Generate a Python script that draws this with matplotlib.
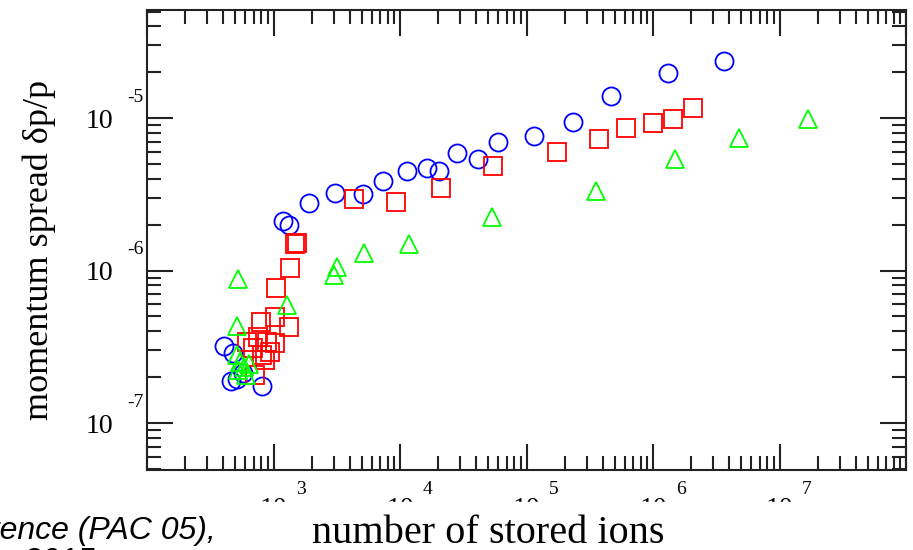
import numpy as np
import matplotlib.pyplot as plt
from matplotlib import ticker
from matplotlib.transforms import blended_transform_factory, offset_copy
from matplotlib.patches import Rectangle

# blue circles
circ_n = [3.66e6, 1.32e6, 4.68e5, 2.34e5, 1.15e5, 5.97e4, 4.15e4, 2.83e4, 2.04e4,
          1.64e4, 1.14e4, 7.35e3, 5.1e3, 3.07e3, 1.91e3, 1.33e3, 1.19e3,
          406, 461, 514, 574, 811, 479]
circ_dp = [2.37e-5, 1.97e-5, 1.39e-5, 9.4e-6, 7.6e-6, 6.96e-6, 5.38e-6, 5.89e-6, 4.49e-6,
           4.7e-6, 4.49e-6, 3.86e-6, 3.18e-6, 3.22e-6, 2.77e-6, 1.99e-6, 2.11e-6,
           3.2e-7, 1.88e-7, 1.94e-7, 2.13e-7, 1.75e-7, 2.88e-7]

# red squares
sq_n = [2.08e6, 1.45e6, 1.0e6, 6.15e5, 3.76e5, 1.75e5, 5.46e4, 2.11e4, 9.3e3, 4.34e3,
        1.53e3, 1.48e3, 1.35e3, 1.05e3, 1.03e3, 1.33e3, 796, 754, 617, 889, 1.03e3,
        689, 938, 857, 714, 811]
sq_dp = [1.16e-5, 9.85e-6, 9.27e-6, 8.6e-6, 7.28e-6, 5.98e-6, 4.84e-6, 3.47e-6, 2.81e-6, 2.94e-6,
         1.51e-6, 1.49e-6, 1.04e-6, 7.67e-7, 4.95e-7, 4.27e-7, 4.6e-7, 3.66e-7, 3.4e-7, 3.4e-7, 3.35e-7,
         3.1e-7, 2.92e-7, 2.59e-7, 2.07e-7, 2.79e-7]

# green triangles
tri_n = [1.69e7, 4.82e6, 1.5e6, 3.56e5, 5.36e4, 1.18e4, 5.2e3, 3.18e3, 3.0e3,
         523, 1.28e3, 514, 514, 543, 584, 640, 523, 605]
tri_dp = [9.85e-6, 7.4e-6, 5.38e-6, 3.32e-6, 2.24e-6, 1.49e-6, 1.3e-6, 1.05e-6, 9.34e-7,
          8.8e-7, 5.94e-7, 4.33e-7, 2.79e-7, 2.51e-7, 2.33e-7, 2.44e-7, 2.23e-7, 2.07e-7]

x_decades = [2, 3, 4, 5, 6, 7, 8]
x_labelled = [3, 4, 5, 6, 7]
y_decades = [-7, -6, -5]
y_labelled = [-7, -6, -5]

serif = 'Liberation Serif'

fig = plt.figure(figsize=(9.13, 5.5), dpi=100)
ax = fig.add_axes([147/913, 80/550, 759/913, 460.5/550])

mk = dict(ls='none', mfc='none', mew=1.3)
ax.plot(circ_n, circ_dp, marker='o', ms=13, mec='#0000ff', **mk)
ax.plot(sq_n, sq_dp, marker='s', ms=13.6, mec='#ff0000', **mk)
ax.plot(tri_n, tri_dp, marker='^', ms=13.5, mec='#00ff00', **mk)

ax.set_xscale('log')
ax.set_yscale('log')
ax.set_xlim(1e2, 1e8)
ax.set_ylim(4.92e-8, 5.16e-5)

ax.xaxis.set_major_locator(ticker.FixedLocator([10.0**e for e in x_decades]))
ax.yaxis.set_major_locator(ticker.FixedLocator([10.0**e for e in y_decades]))
ax.xaxis.set_minor_locator(ticker.LogLocator(base=10, subs=np.arange(2, 10), numticks=100))
ax.yaxis.set_minor_locator(ticker.LogLocator(base=10, subs=np.arange(2, 10), numticks=100))
ax.xaxis.set_major_formatter(ticker.FixedFormatter(['10' if e in x_labelled else '' for e in x_decades]))
ax.yaxis.set_major_formatter(ticker.FixedFormatter(['10' if e in y_labelled else '' for e in y_decades]))
ax.xaxis.set_minor_formatter(ticker.NullFormatter())
ax.yaxis.set_minor_formatter(ticker.NullFormatter())

ax.tick_params(which='both', direction='in', top=True, right=True, width=1.5, color='#222222')
ax.tick_params(which='major', length=18.5)
ax.tick_params(which='minor', length=10)
ax.tick_params(axis='x', which='major', pad=19.4)
ax.tick_params(axis='y', which='major', pad=24.5)
for lab in ax.get_xticklabels() + ax.get_yticklabels():
    lab.set_fontfamily(serif)
    lab.set_fontsize(20)
for s in ax.spines.values():
    s.set_linewidth(1.5)
    s.set_color('#222222')

# exponents drawn beside the "10"
tx = blended_transform_factory(ax.transData, ax.transAxes)
tx = offset_copy(tx, fig=fig, x=27.5, y=-20, units='dots')
for e in x_labelled:
    ax.text(10.0**e, 0, str(e), transform=tx, ha='center', va='center',
            family=serif, fontsize=14, clip_on=False)
ty = blended_transform_factory(ax.transAxes, ax.transData)
ty = offset_copy(ty, fig=fig, x=-12, y=21, units='dots')
for e in y_labelled:
    ax.text(0, 10.0**e, str(e), transform=ty, ha='center', va='center',
            family=serif, fontsize=14, clip_on=False)

fig.text(39/913, (550-250)/550, 'momentum spread δp/p', rotation=90, ha='center', va='center',
         family=serif, fontsize=26)

# the screenshot is cut below the tick labels
fig.add_artist(Rectangle((0, 0), 1, 48/550, transform=fig.transFigure, color='white', zorder=5))
fig.text(488/913, 7/550, 'number of stored ions', ha='center', va='baseline',
         family=serif, fontsize=29, zorder=6)
fig.text(-11/913, 11/550, 'rence (PAC 05),', ha='left', va='baseline',
         family='Liberation Sans', style='italic', fontsize=23, zorder=6)
fig.text(-11/913, -20/550, 'p. 3015', ha='left', va='baseline',
         family='Liberation Sans', style='italic', fontsize=23, zorder=6)

fig.savefig('out.png', dpi=100)
